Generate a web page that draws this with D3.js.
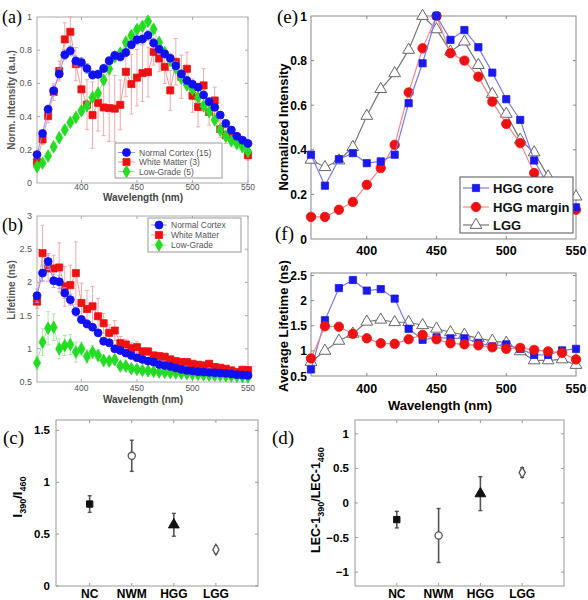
<!DOCTYPE html>
<html><head><meta charset="utf-8">
<script src="https://cdn.jsdelivr.net/npm/d3@7"></script>
<style>body{margin:0;background:#fff}</style>
</head><body><svg id="c" width="588" height="600"></svg>
<script>
// ---------- DATA ----------
const wl5 = [360,365,370,375,380,385,390,395,400,405,410,415,420,425,430,435,440,445,450,455,460,465,470,475,480,485,490,495,500,505,510,515,520,525,530,535,540,545,550];
const ncInt = [0.171,0.298,0.444,0.556,0.657,0.772,0.796,0.735,0.726,0.69,0.651,0.655,0.69,0.736,0.768,0.76,0.786,0.833,0.863,0.867,0.89,0.843,0.806,0.778,0.752,0.706,0.657,0.617,0.595,0.577,0.530,0.490,0.456,0.409,0.359,0.319,0.282,0.258,0.238];
const ncIntErr = [0.02,0.02,0.025,0.03,0.03,0.03,0.03,0.03,0.03,0.03,0.025,0.025,0.025,0.025,0.025,0.025,0.025,0.025,0.03,0.03,0.03,0.03,0.025,0.025,0.025,0.025,0.025,0.025,0.02,0.02,0.02,0.02,0.02,0.02,0.02,0.02,0.02,0.02,0.02];
const wmInt = [0.127,0.262,0.403,0.548,0.674,0.865,0.911,0.716,0.564,0.472,0.409,0.483,0.455,0.451,0.448,0.471,0.67,0.596,0.635,0.662,0.668,0.79,0.75,0.70,0.558,0.73,0.64,0.688,0.526,0.458,0.588,0.428,0.497,0.325,0.288,0.283,0.265,0.247,0.167];
const wmIntErr = [0.02,0.03,0.04,0.05,0.06,0.1,0.09,0.1,0.15,0.15,0.2,0.17,0.17,0.2,0.2,0.15,0.15,0.18,0.17,0.17,0.15,0.08,0.08,0.1,0.12,0.14,0.13,0.1,0.1,0.12,0.1,0.08,0.08,0.05,0.05,0.04,0.03,0.03,0.03];
const lgInt = [0.098,0.12,0.162,0.218,0.273,0.32,0.365,0.395,0.435,0.465,0.515,0.54,0.62,0.688,0.76,0.782,0.848,0.888,0.924,0.944,0.975,0.927,0.847,0.786,0.738,0.692,0.631,0.591,0.565,0.516,0.464,0.429,0.379,0.319,0.282,0.254,0.238,0.218,0.19];
const lgIntErr = [0.015,0.015,0.015,0.02,0.02,0.02,0.02,0.02,0.02,0.02,0.02,0.02,0.02,0.025,0.025,0.025,0.025,0.025,0.025,0.025,0.025,0.025,0.02,0.02,0.02,0.02,0.02,0.02,0.02,0.02,0.02,0.02,0.02,0.02,0.015,0.015,0.015,0.015,0.015];

const ncLt = [1.8,2.14,2.315,2.025,2.01,1.84,1.74,1.56,1.44,1.375,1.325,1.24,1.115,1.09,1.0,0.975,0.935,0.9,0.865,0.84,0.815,0.8,0.765,0.75,0.735,0.71,0.69,0.675,0.665,0.655,0.65,0.645,0.64,0.635,0.63,0.62,0.61,0.605,0.6];
const ncLtErr = [0.1,0.12,0.12,0.1,0.1,0.08,0.08,0.07,0.06,0.06,0.05,0.05,0.04,0.04,0.04,0.03,0.03,0.03,0.03,0.03,0.03,0.03,0.02,0.02,0.02,0.02,0.02,0.02,0.02,0.02,0.02,0.02,0.02,0.02,0.02,0.02,0.02,0.02,0.02];
const wmLt = [1.71,2.44,2.21,2.21,2.225,1.94,1.96,2.14,1.69,1.6,1.64,1.49,1.385,1.24,1.275,1.085,1.065,1.01,1.025,0.96,0.96,0.9,0.89,0.88,0.84,0.815,0.8,0.8,0.775,0.76,0.75,0.775,0.725,0.715,0.7,0.675,0.65,0.685,0.68];
const wmLtErr = [0.1,0.42,0.2,0.2,0.37,0.3,0.3,0.47,0.3,0.28,0.3,0.27,0.15,0.12,0.15,0.1,0.08,0.08,0.08,0.06,0.06,0.05,0.05,0.05,0.05,0.04,0.04,0.04,0.04,0.04,0.04,0.04,0.04,0.04,0.04,0.04,0.04,0.04,0.04];
const lgLt = [0.79,1.1,1.31,1.325,1.0,1.05,1.065,0.95,1.0,0.885,0.95,0.9,0.825,0.815,0.835,0.74,0.74,0.7,0.69,0.675,0.67,0.66,0.65,0.645,0.64,0.635,0.63,0.625,0.62,0.615,0.61,0.605,0.6,0.6,0.595,0.59,0.585,0.58,0.575];
const lgLtErr = [0.1,0.2,0.25,0.2,0.15,0.15,0.15,0.15,0.1,0.1,0.1,0.08,0.08,0.06,0.06,0.05,0.05,0.04,0.04,0.04,0.03,0.03,0.03,0.03,0.03,0.03,0.03,0.03,0.03,0.03,0.03,0.03,0.03,0.03,0.03,0.03,0.03,0.03,0.03];

const groups = ["NC","NWM","HGG","LGG"];
const ratio = [0.79,1.255,0.59,0.35];
const ratioErr = [0.08,0.15,0.11,0.035];
const lecRatio = [-0.24,-0.47,0.135,0.44];
const lecErr = [0.12,0.39,0.245,0.07];

const wl10 = [360,370,380,390,400,410,420,430,440,450,460,470,480,490,500,510,520,530,540,550];
const coreInt = [0.378,0.239,0.358,0.385,0.34,0.348,0.378,0.609,0.788,1.0,0.893,0.937,0.86,0.746,0.627,0.534,0.352,0.24,0.17,0.142];
const marginInt = [0.099,0.099,0.131,0.166,0.243,0.318,0.422,0.657,0.855,1.0,0.833,0.8,0.728,0.616,0.516,0.43,0.296,0.22,0.16,0.131];
const lggInt = [0.355,0.322,0.352,0.412,0.552,0.672,0.743,0.848,1.0,0.94,0.84,0.885,0.78,0.65,0.561,0.445,0.388,0.28,0.22,0.19];
const coreLt = [0.63,1.61,2.25,2.41,2.2,2.23,2.04,1.44,1.22,1.27,1.25,1.25,1.16,1.09,1.13,1.04,0.92,0.92,1.01,1.04];
const marginLt = [0.85,1.49,1.48,1.34,1.25,1.15,1.14,1.23,1.32,1.23,1.15,1.13,1.11,1.07,1.04,1.06,1.02,0.99,0.96,0.83];
const lggLt = [0.78,1.0,1.2,1.34,1.58,1.62,1.57,1.57,1.51,1.44,1.37,1.32,1.25,1.2,1.16,0.99,0.81,0.81,0.83,0.72];

// ---------- DRAW ----------
const svg = d3.select("#c");
const SANS = "'Liberation Sans', Arial, sans-serif";
const SERIF = "'Liberation Serif', 'Times New Roman', serif";

function sym(type, size){ return d3.symbol().type(type).size(size)(); }

function box(g, x0, x1, y0, y1, stroke){
  g.append("rect").attr("x", x0).attr("y", y0).attr("width", x1 - x0).attr("height", y1 - y0)
    .attr("fill", "none").attr("stroke", stroke).attr("stroke-width", 1);
}

function ticksXY(g, x, y, xt, yt, stroke, tl){
  const [x0, x1] = x.range(), [y1, y0] = y.range();
  xt.forEach(v => {
    g.append("line").attr("x1", x(v)).attr("x2", x(v)).attr("y1", y1).attr("y2", y1 - tl).attr("stroke", stroke);
    g.append("line").attr("x1", x(v)).attr("x2", x(v)).attr("y1", y0).attr("y2", y0 + tl).attr("stroke", stroke);
  });
  yt.forEach(v => {
    g.append("line").attr("x1", x0).attr("x2", x0 + tl).attr("y1", y(v)).attr("y2", y(v)).attr("stroke", stroke);
    g.append("line").attr("x1", x1).attr("x2", x1 - tl).attr("y1", y(v)).attr("y2", y(v)).attr("stroke", stroke);
  });
}

function label(txt, x, y, opt){
  const t = svg.append("text").attr("x", x).attr("y", y).text(txt)
    .attr("font-family", opt.family || SANS).attr("font-size", opt.size)
    .attr("font-weight", opt.weight || "normal").attr("fill", opt.fill || "#000")
    .attr("text-anchor", opt.anchor || "middle");
  if (opt.rot) t.attr("transform", `rotate(-90,${x},${y})`);
  return t;
}

function series(g, x, y, xs, ys, errs, s){
  const line = d3.line().x((d, i) => x(xs[i])).y(d => y(d));
  if (errs){
    errs.forEach((e, i) => {
      const cx = x(xs[i]);
      g.append("line").attr("x1", cx).attr("x2", cx).attr("y1", y(ys[i] - e)).attr("y2", y(ys[i] + e))
        .attr("stroke", s.errColor).attr("stroke-width", 0.9);
      [ys[i] - e, ys[i] + e].forEach(v => g.append("line").attr("x1", cx - 2).attr("x2", cx + 2)
        .attr("y1", y(v)).attr("y2", y(v)).attr("stroke", s.errColor).attr("stroke-width", 0.9));
    });
  }
  g.append("path").attr("d", line(ys)).attr("fill", "none").attr("stroke", s.lineColor).attr("stroke-width", s.lw || 1);
  ys.forEach((v, i) => {
    g.append("path").attr("d", sym(s.type, s.size))
      .attr("transform", `translate(${x(xs[i])},${y(v)})`)
      .attr("fill", s.fill).attr("stroke", s.stroke || s.fill).attr("stroke-width", s.sw || 0.8);
  });
}

function legend(g, x0, x1, y0, y1, items, opt){
  g.append("rect").attr("x", x0).attr("y", y0).attr("width", x1 - x0).attr("height", y1 - y0)
    .attr("fill", "#fff").attr("stroke", opt.stroke).attr("stroke-width", 1);
  items.forEach((it, i) => {
    const yy = opt.ys[i];
    g.append("line").attr("x1", x0 + opt.l0).attr("x2", x0 + opt.l1).attr("y1", yy).attr("y2", yy)
      .attr("stroke", it.s.lineColor).attr("stroke-width", it.s.lw || 1);
    g.append("path").attr("d", sym(it.s.type, it.s.size)).attr("transform", `translate(${x0 + (opt.l0 + opt.l1) / 2},${yy})`)
      .attr("fill", it.s.fill).attr("stroke", it.s.stroke || it.s.fill).attr("stroke-width", it.s.sw || 0.8);
    g.append("text").attr("x", x0 + opt.tx).attr("y", yy + opt.size * 0.36).text(it.name)
      .attr("font-family", SANS).attr("font-size", opt.size).attr("font-weight", opt.weight || "normal")
      .attr("fill", opt.color);
  });
}

// styles
const sBlue = {type: d3.symbolCircle, size: 50, fill: "#1010f0", lineColor: "#8f8ff5", errColor: "#9d9df7"};
const sRed = {type: d3.symbolSquare, size: 50, fill: "#ee1111", lineColor: "#f59a9a", errColor: "#f3a0a0"};
const sGreen = {type: d3.symbolDiamond, size: 45, fill: "#22dd22", lineColor: "#99ee99", errColor: "#9fe89f"};

// ---- Panel (a)
{
  const g = svg.append("g");
  const x = d3.scaleLinear().domain([360, 550]).range([37, 248]);
  const y = d3.scaleLinear().domain([0, 1]).range([183, 17]);
  box(g, 37, 248, 17, 183, "#aaa");
  ticksXY(g, x, y, [400, 450, 500, 550], [0.2, 0.4, 0.6, 0.8], "#aaa", 3);
  series(g, x, y, wl5, wmInt, wmIntErr, sRed);
  series(g, x, y, wl5, lgInt, lgIntErr, sGreen);
  series(g, x, y, wl5, ncInt, ncIntErr, sBlue);
  [0, 0.2, 0.4, 0.6, 0.8, 1].forEach(v => label(d3.format("~g")(v), 32, y(v) + 3, {size: 9, fill: "#555", anchor: "end"}));
  [400, 450, 500, 550].forEach(v => label(v, x(v), 190, {size: 8.5, fill: "#555"}));
  label("Wavelength (nm)", 143, 201, {size: 10, weight: "bold", fill: "#444"});
  label("Norm. Intensity (a.u.)", 15, 100, {size: 10, weight: "bold", fill: "#555", rot: true});
  legend(g, 115, 222, 143, 178, [{name: "Normal Cortex (15)", s: sBlue}, {name: "White Matter (3)", s: sRed}, {name: "Low-Grade (5)", s: sGreen}],
    {ys: [152.5, 162, 171.5], l0: 3, l1: 20, tx: 24, size: 8.5, color: "#555", stroke: "#999"});
  label("(a)", 2, 23, {size: 18, family: SERIF, anchor: "start"});
}

// ---- Panel (b)
{
  const g = svg.append("g");
  const x = d3.scaleLinear().domain([360, 550]).range([37, 248]);
  const y = d3.scaleLinear().domain([0.5, 3]).range([382, 216]);
  box(g, 37, 248, 216, 382, "#aaa");
  ticksXY(g, x, y, [400, 450, 500, 550], [1, 1.5, 2, 2.5], "#aaa", 3);
  series(g, x, y, wl5, lgLt, lgLtErr, sGreen);
  series(g, x, y, wl5, wmLt, wmLtErr, sRed);
  series(g, x, y, wl5, ncLt, ncLtErr, sBlue);
  [0.5, 1, 1.5, 2, 2.5, 3].forEach(v => label(d3.format("~g")(v), 32, y(v) + 3, {size: 9, fill: "#555", anchor: "end"}));
  [400, 450, 500, 550].forEach(v => label(v, x(v), 391, {size: 8.5, fill: "#555"}));
  label("Wavelength (nm)", 143, 403, {size: 10, weight: "bold", fill: "#444"});
  label("Lifetime (ns)", 15, 290, {size: 10, weight: "bold", fill: "#555", rot: true});
  legend(g, 148, 241, 218, 252, [{name: "Normal Cortex", s: sBlue}, {name: "White Matter", s: sRed}, {name: "Low-Grade", s: sGreen}],
    {ys: [225, 235, 245], l0: 3, l1: 19, tx: 23, size: 8.5, color: "#555", stroke: "#999"});
  label("(b)", 2, 231, {size: 18, family: SERIF, anchor: "start"});
}

// ---- Panels (c) and (d)
const mk = [
  {type: d3.symbolSquare, size: 40, fill: "#111", stroke: "#111"},
  {type: d3.symbolCircle, size: 40, fill: "#fff", stroke: "#555", sw: 1.3},
  {type: d3.symbolTriangle, size: 50, fill: "#111", stroke: "#111"},
  {type: d3.symbolDiamond, size: 34, fill: "#fff", stroke: "#555", sw: 1.3}
];
function catPanel(x0, x1, dom, yDom, vals, errs, yt){
  const g = svg.append("g");
  const x = d3.scaleLinear().domain(dom).range([x0, x1]);
  const y = d3.scaleLinear().domain(yDom).range([586, 420]);
  box(g, x0, x1, 420, 586, "#999");
  ticksXY(g, x, y, [1, 2, 3, 4], yt, "#999", 3);
  vals.forEach((v, i) => {
    const cx = x(i + 1);
    g.append("line").attr("x1", cx).attr("x2", cx).attr("y1", y(v - errs[i])).attr("y2", y(v + errs[i])).attr("stroke", "#555").attr("stroke-width", 1.6);
    [v - errs[i], v + errs[i]].forEach(e => g.append("line").attr("x1", cx - 2).attr("x2", cx + 2).attr("y1", y(e)).attr("y2", y(e)).attr("stroke", "#555").attr("stroke-width", 1.4));
    g.append("path").attr("d", sym(mk[i].type, mk[i].size)).attr("transform", `translate(${cx},${y(v)})`)
      .attr("fill", mk[i].fill).attr("stroke", mk[i].stroke).attr("stroke-width", mk[i].sw || 1);
  });
  yt.forEach(v => label(d3.format("~g")(v), x0 - 6, y(v) + 4, {size: 11.5, weight: "bold", anchor: "end"}));
  groups.forEach((c, i) => label(c, x(i + 1), 598, {size: 12, weight: "bold"}));
  return g;
}
catPanel(56, 258, [0.2, 5], [0, 1.6], ratio, ratioErr, [0, 0.5, 1, 1.5]);
catPanel(355, 564, [0, 5], [-1.2, 1.2], lecRatio, lecErr, [-1, -0.5, 0, 0.5, 1]);
{
  const t = svg.append("text").attr("transform", "translate(22,497) rotate(-90)").attr("text-anchor", "middle")
    .attr("font-family", SANS).attr("font-size", 13).attr("font-weight", "bold");
  t.append("tspan").text("I");
  t.append("tspan").text("390").attr("font-size", 9).attr("dy", 4);
  t.append("tspan").text("/I").attr("dy", -4);
  t.append("tspan").text("460").attr("font-size", 9).attr("dy", 4);
  const t2 = svg.append("text").attr("transform", "translate(320,500) rotate(-90)").attr("text-anchor", "middle")
    .attr("font-family", SANS).attr("font-size", 12.5).attr("font-weight", "bold");
  t2.append("tspan").text("LEC-1");
  t2.append("tspan").text("390").attr("font-size", 9).attr("dy", 4);
  t2.append("tspan").text("/LEC-1").attr("dy", -4);
  t2.append("tspan").text("460").attr("font-size", 9).attr("dy", 4);
  label("(c)", 3, 444, {size: 19, family: SERIF, anchor: "start"});
  label("(d)", 272, 444, {size: 19, family: SERIF, anchor: "start"});
}

// ---- Panels (e) and (f)
const sCore = {type: d3.symbolSquare, size: 52, fill: "#1a1aee", lineColor: "#7b7bea", lw: 1.2};
const sMargin = {type: d3.symbolCircle, size: 70, fill: "#ee1111", lineColor: "#f08a8a", lw: 1.2};
const sLgg = {type: d3.symbolTriangle, size: 60, fill: "#fff", stroke: "#666", sw: 1, lineColor: "#777", lw: 1.2};
{
  const g = svg.append("g");
  const x = d3.scaleLinear().domain([360, 550]).range([311, 576]);
  const y = d3.scaleLinear().domain([0, 1]).range([239, 16]);
  box(g, 311, 576, 16, 239, "#888");
  ticksXY(g, x, y, [400, 450, 500], [0.2, 0.4, 0.6, 0.8], "#888", 3);
  series(g, x, y, wl10, lggInt, null, sLgg);
  series(g, x, y, wl10, marginInt, null, sMargin);
  series(g, x, y, wl10, coreInt, null, sCore);
  [0, 0.2, 0.4, 0.6, 0.8, 1].forEach(v => label(d3.format("~g")(v), 307, y(v) + 4.5, {size: 12, weight: "bold", anchor: "end"}));
  [400, 450, 500, 550].forEach(v => label(v, x(v), 255, {size: 12.5, weight: "bold"}));
  label("Normalized Intensity", 288, 127, {size: 13, weight: "bold", rot: true});
  legend(g, 460, 573, 177, 233, [{name: "HGG core", s: sCore}, {name: "HGG margin", s: sMargin}, {name: "LGG", s: sLgg}],
    {ys: [188, 207, 225], l0: 3, l1: 29, tx: 33, size: 13, weight: "bold", color: "#111", stroke: "#555"});
  label("(e)", 277, 23, {size: 19, family: SERIF, anchor: "start"});
}
{
  const g = svg.append("g");
  const x = d3.scaleLinear().domain([360, 550]).range([311, 576]);
  const y = d3.scaleLinear().domain([0.5, 2.55]).range([376, 273]);
  box(g, 311, 576, 273, 376, "#888");
  ticksXY(g, x, y, [400, 450, 500], [1, 1.5, 2, 2.5], "#888", 3);
  series(g, x, y, wl10, lggLt, null, sLgg);
  series(g, x, y, wl10, coreLt, null, sCore);
  series(g, x, y, wl10, marginLt, null, sMargin);
  [0.5, 1, 1.5, 2, 2.5].forEach(v => label(d3.format("~g")(v), 307, y(v) + 4.5, {size: 12, weight: "bold", anchor: "end"}));
  [400, 450, 500, 550].forEach(v => label(v, x(v), 393, {size: 12.5, weight: "bold"}));
  label("Wavelength (nm)", 440, 410, {size: 13, weight: "bold"});
  label("Average Lifetime (ns)", 288, 326, {size: 13, weight: "bold", rot: true});
  label("(f)", 275, 240, {size: 19, family: SERIF, anchor: "start"});
}
</script></body></html>
